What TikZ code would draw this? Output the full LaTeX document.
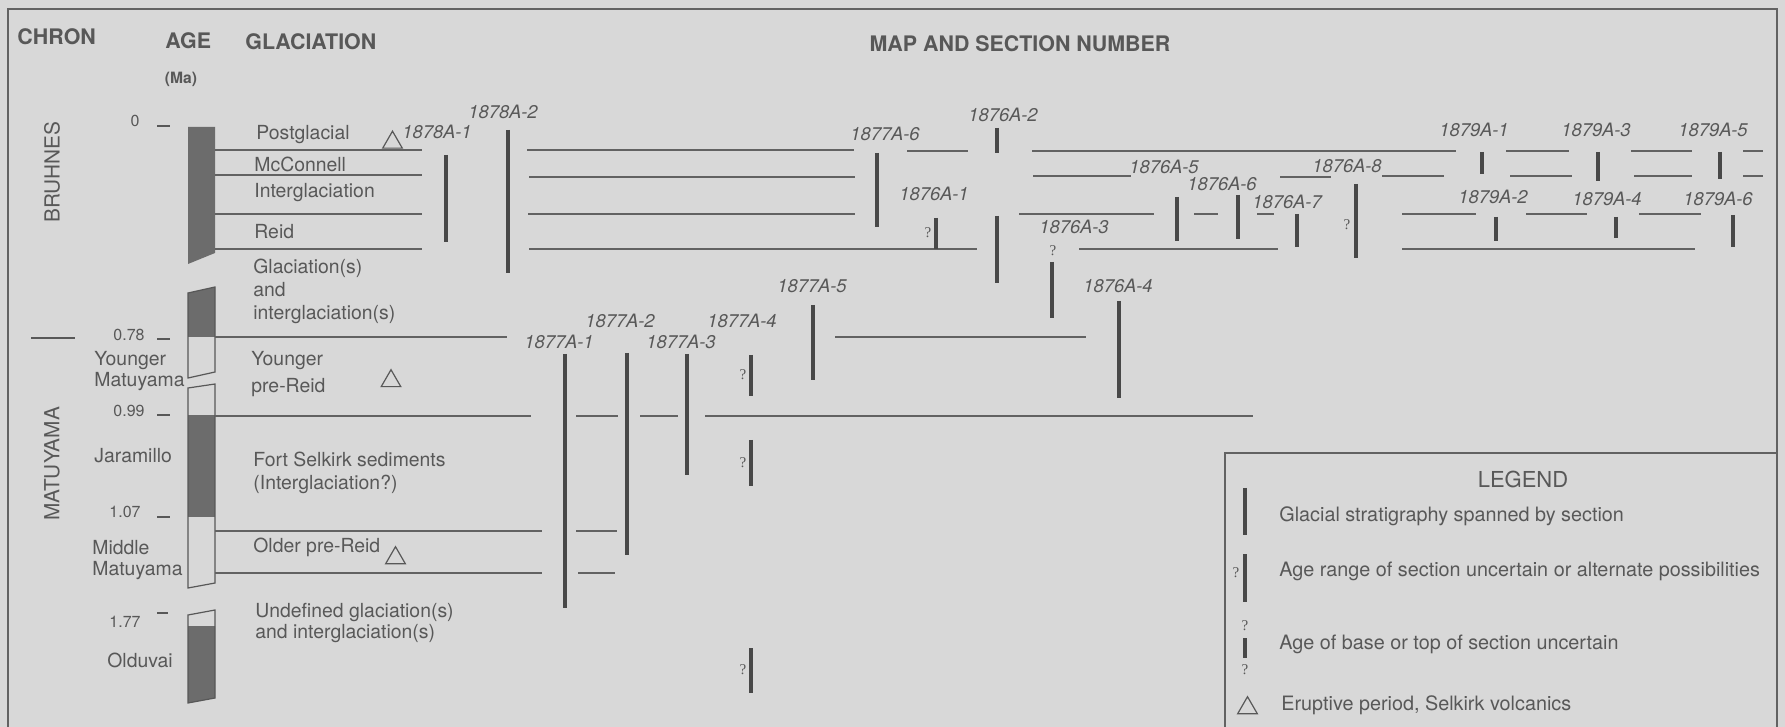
\documentclass[tikz,border=0pt]{standalone}
\usepackage{fontspec}
\setmainfont{TeX Gyre Heros}
\newfontfamily\qmarkfont{Liberation Serif}
\usepackage{tikz}
\usetikzlibrary{shapes.geometric}
\usepackage{xcolor}
\definecolor{bgcol}{RGB}{216,216,216}
\definecolor{inkcol}{RGB}{88,88,88}
\definecolor{linecol}{RGB}{98,98,98}
\definecolor{barcol}{RGB}{72,72,72}
\definecolor{colcol}{RGB}{108,108,108}
\tikzset{
  % column headings
  headtxt/.style={font=\fontsize{10.7}{12}\selectfont\bfseries, text=inkcol, inner sep=0pt},
  % glaciation and chron names
  unittxt/.style={font=\fontsize{9.7}{11.5}\selectfont, text=inkcol, inner sep=0pt, align=left, anchor=west},
  % ages in Ma
  agetxt/.style={font=\fontsize{8}{9}\selectfont, text=inkcol, inner sep=0pt, anchor=east},
  % section numbers
  secname/.style={font=\fontsize{9.2}{11}\selectfont\itshape, text=inkcol, inner sep=0pt},
  % chron names, vertical
  chrontxt/.style={font=\fontsize{10.4}{12}\selectfont, text=inkcol, inner sep=0pt, rotate=90},
  % uncertain mark
  qmark/.style={font=\qmarkfont\fontsize{7.5}{8}\selectfont, text=inkcol, inner sep=0pt},
  % legend entry
  legtxt/.style={font=\fontsize{9.9}{12}\selectfont, text=inkcol, inner sep=0pt, anchor=west},
  % stratigraphic boundary
  bound/.style={draw=linecol, line width=1pt},
  % section span
  secbar/.style={draw=barcol, line width=2pt},
  % age tick and column outline
  agetick/.style={draw=inkcol, line width=0.6pt},
  % eruptive period
  erupt/.style={regular polygon, regular polygon sides=3, draw=inkcol, line width=0.6pt,
                minimum size=11.3pt, inner sep=0pt},
}

\begin{document}
\begin{tikzpicture}[x=0.5pt, y=-0.5pt]
  \fill[bgcol] (0,0) rectangle (1785,727);
  \useasboundingbox (0,0) rectangle (1785,727);

  % frame and legend box
  \draw[linecol, line width=1pt] (8,727) -- (8,9) -- (1777,9) -- (1777,727);
  \draw[linecol, line width=1pt] (1225,727) -- (1225,453) -- (1777,453);

  % headings
  \node[headtxt, anchor=west] (hchron) at (17,37) {CHRON};
  \node[headtxt, anchor=west] (hage) at (165,41) {AGE};
  \node[headtxt, anchor=west] (hglac) at (245,42) {GLACIATION};
  \node[headtxt] (hmap) at (1020,44) {MAP AND SECTION NUMBER};
  \node[headtxt, font=\fontsize{7.8}{9}\selectfont\bfseries] (hma) at (181,79) {(Ma)};

  % chrons
  \node[chrontxt] (cbru) at (52,172) {BRUHNES};
  \node[chrontxt] (cmat) at (52,464) {MATUYAMA};
  \draw[agetick] (31,338) -- (75,338);
  \node[unittxt, font=\fontsize{9.7}{9}\selectfont] (cyoung) at (94,371) {Younger\\Matuyama};
  \node[unittxt] (cjara) at (94,456) {Jaramillo};
  \node[unittxt, font=\fontsize{9.7}{10.5}\selectfont] (cmid) at (92,560) {Middle\\Matuyama};
  \node[unittxt] (coldu) at (107,660) {Olduvai};

  % ages
  \node[agetxt] (a0) at (140,121) {0};
  \node[agetxt] (a078) at (145,335) {0.78};
  \node[agetxt] (a099) at (145,411) {0.99};
  \node[agetxt] (a107) at (141,512) {1.07};
  \node[agetxt] (a177) at (141,622) {1.77};
  \draw[agetick] (157,126) -- (170,126) (157,339) -- (170,339) (157,415) -- (170,415)
    (157,517) -- (170,517) (157,613) -- (168,613);

  % age column
  \fill[colcol] (188,127) -- (215,127) -- (215,253) -- (188,264) -- cycle;
  \fill[colcol] (188,293) -- (215,287) -- (215,337) -- (188,337) -- cycle;
  \draw[agetick] (188,293) -- (215,287) -- (215,372) -- (188,378) -- cycle;
  \fill[colcol] (188,415) rectangle (215,517);
  \draw[agetick] (188,388) -- (215,384) -- (215,583) -- (188,588) -- cycle;
  \fill[colcol] (188,626) -- (215,626) -- (215,698) -- (188,703) -- cycle;
  \draw[agetick] (188,615) -- (215,610) -- (215,698) -- (188,703) -- cycle;

  % glaciations
  \node[unittxt] (gpost) at (256,135) {Postglacial};
  \node[unittxt] (gmcc) at (254,164) {McConnell};
  \node[unittxt] (ginter) at (254,193) {Interglaciation};
  \node[unittxt] (greid) at (254,232) {Reid};
  \node[unittxt] (gglac) at (253,291) {Glaciation(s)\\and\\interglaciation(s)};
  \node[unittxt, font=\fontsize{9.7}{13.5}\selectfont] (gyoung) at (251,374) {Younger\\pre-Reid};
  \node[unittxt] (gfort) at (253,473) {Fort Selkirk sediments\\(Interglaciation?)};
  \node[unittxt] (golder) at (253,547) {Older pre-Reid};
  \node[unittxt, font=\fontsize{9.7}{10.5}\selectfont] (gundef) at (255,623) {Undefined glaciation(s)\\and interglaciation(s)};
  \node[erupt] (e1) at (392.5,142.5) {};
  \node[erupt] (e2) at (391,381) {};
  \node[erupt] (e3) at (395.5,558) {};

  % boundaries
  \draw[bound] (215,150) -- (422,150) (527,150) -- (854,150) (907,151) -- (968,151)
    (1032,151) -- (1456,151) (1506,151) -- (1569,151) (1631,151) -- (1692,151) (1743,151) -- (1763,151);
  \draw[bound] (215,175) -- (422,175) (529,177) -- (855,177) (1033,176) -- (1131,176)
    (1280,177) -- (1331,177) (1382,176) -- (1444,176) (1510,176) -- (1572,176)
    (1634,176) -- (1692,176) (1743,176) -- (1763,176);
  \draw[bound] (215,214) -- (422,214) (528,214) -- (855,214) (1019,214) -- (1154,214)
    (1194,214) -- (1218,214) (1257,214) -- (1274,214) (1402,214) -- (1476,214)
    (1526,214) -- (1587,214) (1639,214) -- (1701,214);
  \draw[bound] (215,249) -- (422,249) (529,249) -- (977,249) (1079,249) -- (1278,249) (1402,249) -- (1695,249);
  \draw[bound] (215,337) -- (507,337) (835,337) -- (1086,337);
  \draw[bound] (215,416) -- (531,416) (576,416) -- (618,416) (640,416) -- (678,416) (705,416) -- (1253,416);
  \draw[bound] (215,531) -- (542,531) (576,531) -- (617,531);
  \draw[bound] (215,573) -- (542,573) (578,573) -- (615,573);

  % sections 1878A
  \node[secname] (s78a1) at (437,132) {1878A-1};
  \node[secname] (s78a2) at (503,112) {1878A-2};
  \draw[secbar] (446,155) -- (446,242);
  \draw[secbar] (508,130) -- (508,273);

  % sections 1877A
  \node[secname] (s77a1) at (559,342) {1877A-1};
  \node[secname] (s77a2) at (620,321) {1877A-2};
  \node[secname] (s77a3) at (681,342) {1877A-3};
  \node[secname] (s77a4) at (742,321) {1877A-4};
  \node[secname] (s77a5) at (812,286) {1877A-5};
  \node[secname] (s77a6) at (885,134) {1877A-6};
  \draw[secbar] (565,354) -- (565,608);
  \draw[secbar] (627,353) -- (627,555);
  \draw[secbar] (687,354) -- (687,475);
  \draw[secbar] (751,355) -- (751,396) (751,440) -- (751,486) (751,648) -- (751,693);
  \node[qmark] (q1) at (743,375) {?};
  \node[qmark] (q2) at (743,463) {?};
  \node[qmark] (q3) at (743,670) {?};
  \draw[secbar] (813,305) -- (813,380);
  \draw[secbar] (877,153) -- (877,227);

  % sections 1876A
  \node[secname] (s76a1) at (934,194) {1876A-1};
  \node[secname] (s76a2) at (1003,115) {1876A-2};
  \node[secname] (s76a3) at (1074,227) {1876A-3};
  \node[secname] (s76a4) at (1118,286) {1876A-4};
  \node[secname] (s76a5) at (1164,167) {1876A-5};
  \node[secname] (s76a6) at (1222,184) {1876A-6};
  \node[secname] (s76a7) at (1287,202) {1876A-7};
  \node[secname] (s76a8) at (1347,166) {1876A-8};
  \draw[secbar] (936,218) -- (936,249);
  \node[qmark] (q4) at (928,233) {?};
  \draw[secbar] (997,128) -- (997,153) (997,216) -- (997,283);
  \draw[secbar] (1052,262) -- (1052,318);
  \node[qmark] (q5) at (1053,251) {?};
  \draw[secbar] (1119,301) -- (1119,398);
  \draw[secbar] (1177,197) -- (1177,241);
  \draw[secbar] (1238,195) -- (1238,239);
  \draw[secbar] (1297,214) -- (1297,247);
  \draw[secbar] (1356,184) -- (1356,258);
  \node[qmark] (q6) at (1347,225) {?};

  % sections 1879A
  \node[secname] (s79a1) at (1474,130) {1879A-1};
  \node[secname] (s79a2) at (1493,197) {1879A-2};
  \node[secname] (s79a3) at (1596,130) {1879A-3};
  \node[secname] (s79a4) at (1607,199) {1879A-4};
  \node[secname] (s79a5) at (1713,130) {1879A-5};
  \node[secname] (s79a6) at (1718,199) {1879A-6};
  \draw[secbar] (1482,152) -- (1482,174);
  \draw[secbar] (1496,217) -- (1496,241);
  \draw[secbar] (1598,152) -- (1598,181);
  \draw[secbar] (1616,217) -- (1616,238);
  \draw[secbar] (1720,152) -- (1720,179);
  \draw[secbar] (1733,215) -- (1733,247);

  % legend
  \node[font=\fontsize{11}{12}\selectfont, text=inkcol, inner sep=0pt] (leg) at (1523,479) {LEGEND};
  \draw[secbar] (1245,488) -- (1245,535);
  \node[legtxt] (l1) at (1279,516) {Glacial stratigraphy spanned by section};
  \draw[secbar] (1245,554) -- (1245,602);
  \node[qmark] (lq1) at (1236,573) {?};
  \node[legtxt] (l2) at (1279,571) {Age range of section uncertain or alternate possibilities};
  \draw[secbar] (1245,638) -- (1245,658);
  \node[qmark] (lq2) at (1245,626) {?};
  \node[qmark] (lq3) at (1245,670) {?};
  \node[legtxt] (l3) at (1279,644) {Age of base or top of section uncertain};
  \node[erupt] (le) at (1247.5,708) {};
  \node[legtxt] (l4) at (1281,705) {Eruptive period, Selkirk volcanics};
\end{tikzpicture}
\end{document}
